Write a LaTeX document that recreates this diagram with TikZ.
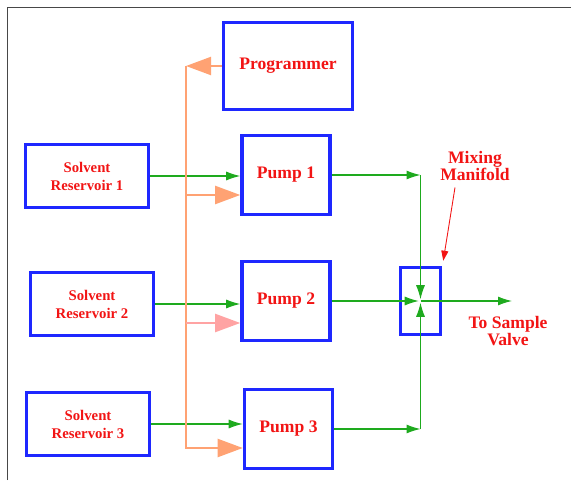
\documentclass[tikz,border=0pt]{standalone}
\usepackage{fontspec}
\setmainfont{Liberation Serif}
\usetikzlibrary{arrows.meta,calc,positioning}
\definecolor{HpBlue}{HTML}{1E28FF}
\definecolor{HpRed}{HTML}{F21414}
\definecolor{HpGreen}{HTML}{1EAA1E}
\definecolor{HpOrange}{HTML}{FFA273}
\definecolor{HpPink}{HTML}{FFA3A3}
\definecolor{HpFrame}{HTML}{474747}
\newcommand{\HpLabel}{\fontsize{10}{10.2}\selectfont\bfseries}
\newcommand{\HpSmall}{\fontsize{8.4}{10.2}\selectfont\bfseries}
\tikzset{
  unitbox/.style={
    draw=HpBlue,
    fill=white,
    line width=2pt,
    align=center,
    inner sep=1pt,
    text=HpRed,
    font=\HpLabel
  },
  pumpbox/.style={unitbox, minimum width=1.76cm, minimum height=1.58cm},
  reservoirbox/.style={unitbox, font=\HpSmall, minimum width=2.46cm, minimum height=1.26cm},
  mixbox/.style={unitbox, minimum width=0.80cm, minimum height=1.34cm},
  notelabel/.style={
    align=center,
    inner sep=0pt,
    text=HpRed,
    font=\HpLabel
  },
  flowarrow/.style={
    -{Latex[length=2.8mm,width=1.8mm]},
    draw=HpGreen,
    line width=0.6pt
  },
  ctrlarrow/.style={
    -{Triangle[length=5mm,width=3.6mm]},
    draw=HpOrange,
    line width=1.2pt
  },
  notearrow/.style={
    -{Triangle[length=2mm,width=1.4mm]},
    draw=HpRed,
    line width=0.5pt
  }
}
\begin{document}
\begin{tikzpicture}[x=1cm,y=1cm]
\path[use as bounding box] (0,0) rectangle (11.42,9.6);
\draw[HpFrame, line width=0.8pt] (0.146,0) -- (0.146,9.454) -- (11.42,9.454);

\node[unitbox, minimum width=2.58cm, minimum height=1.74cm] (prog) at (5.76,8.28) {Programmer};

\node[pumpbox] (pump1) at (5.72,6.10) {Pump 1};
\node[pumpbox] (pump2) at (5.72,3.58) {Pump 2};
\node[pumpbox] (pump3) at (5.77,1.02) {Pump 3};

\node[reservoirbox] (res1) at (1.74,6.08) {Solvent\\Reservoir 1};
\node[reservoirbox] (res2) at (1.84,3.52) {Solvent\\Reservoir 2};
\node[reservoirbox] (res3) at (1.76,1.12) {Solvent\\Reservoir 3};

\node[mixbox] (mix) at (8.41,3.58) {};

\node[notelabel] (mixlbl) at (9.50,6.28) {Mixing\\Manifold};
\node[notelabel] (outlbl) at (10.16,2.98) {To Sample\\Valve};
\coordinate (out) at (10.24,3.58);

% solvent flow
\draw[flowarrow] (res1.east) -- (res1.east -| pump1.west);
\draw[flowarrow] (res2.east) -- (res2.east -| pump2.west);
\draw[flowarrow] (res3.east) -- (res3.east -| pump3.west);

\coordinate (j1) at (pump1.east -| mix.center);
\coordinate (j3) at (pump3.east -| mix.center);
\draw[flowarrow] (pump1.east) -- (j1);
\draw[flowarrow] (pump3.east) -- (j3);
\draw[flowarrow, shorten >=1pt] (j1) -- (mix.center);
\draw[flowarrow, shorten >=1pt] (j3) -- (mix.center);
\draw[flowarrow, shorten >=1pt] (pump2.east) -- (mix.center);
\draw[flowarrow] (mix.center) -- (out);

% control lines
\coordinate (bus) at (3.72,8.28);
\coordinate (p1in) at ([yshift=-0.40cm]pump1.west);
\coordinate (p2in) at ([yshift=-0.44cm]pump2.west);
\coordinate (p3in) at ([yshift=-0.38cm]pump3.west);
\draw[ctrlarrow] (prog.west) -- (bus);
\draw[ctrlarrow] (bus) |- (p3in);
\draw[ctrlarrow] (bus |- p1in) -- (p1in);
\draw[ctrlarrow, draw=HpPink] (bus |- p2in) -- (p2in);

\draw[notearrow] ([xshift=-0.40cm,yshift=-0.12cm]mixlbl.south) -- ([xshift=0.02cm,yshift=0.10cm]mix.north east);

\end{tikzpicture}
\end{document}
